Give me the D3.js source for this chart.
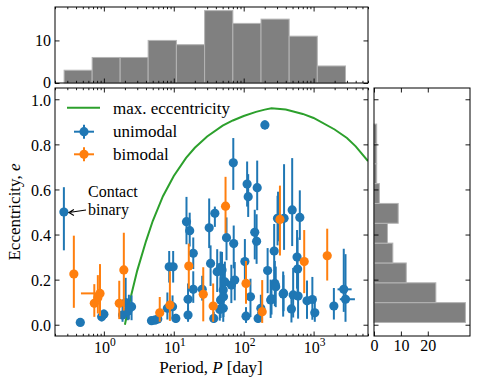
<!DOCTYPE html>
<html>
<head>
<meta charset="utf-8">
<script src="https://cdn.jsdelivr.net/npm/d3@7"></script>
<style>
  body { margin: 0; background: #fff; }
  svg text { font-family: "Liberation Serif", "DejaVu Serif", serif; font-size: 17px; fill: #000; }
</style>
</head>
<body>
<svg id="chart" width="480" height="380"></svg>
<script>
"use strict";

// unimodal (blue) orbits: period [day], eccentricity, lower / upper error
const uniPeriod = [0.268, 0.46, 0.93, 1.0, 1.85, 2.05, 2.2, 2.28, 2.49, 4.8, 5.35, 5.9, 8.1, 8.6, 9.6, 9.8, 10.7,
  15.2, 16.9, 16, 16, 19, 19, 25.5, 32.1, 33.6, 37.3, 38.7, 41.8, 45.5, 46.7, 46.7, 49, 51, 51.4, 51, 53.8, 56.8, 66.6,
  71, 72, 74.5, 104, 108, 112, 116, 125, 144, 153, 156, 161, 176,
  201, 220, 243, 250, 273, 279, 282, 287, 305, 310, 367, 372, 378,
  482, 494, 510, 580, 590, 600, 635, 805, 960, 1040, 1950, 2700, 2860];
const uniEcc = [0.50, 0.01, 0.035, 0.047, 0.043, 0.098, 0.06, 0.073, 0.08, 0.018, 0.02, 0.025, 0.073, 0.257, 0.08, 0.257, 0.028,
  0.457, 0.417, 0.113, 0.043, 0.317, 0.157, 0.157, 0.43, 0.272, 0.028, 0.494, 0.235, 0.068, 0.255, 0.11, 0.243, 0.154, 0.124, 0.073, 0.19, 0.386, 0.176,
  0.718, 0.36, 0.198, 0.28, 0.038, 0.624, 0.568, 0.124, 0.41, 0.37, 0.608, 0.028, 0.073,
  0.886, 0.24, 0.11, 0.115, 0.327, 0.183, 0.175, 0.168, 0.472, 0.47, 0.136, 0.14, 0.472,
  0.07, 0.509, 0.132, 0.30, 0.247, 0.127, 0.476, 0.106, 0.112, 0.053, 0.083, 0.157, 0.113];
const uniErrLo = [0.17, 0.01, 0.02, 0.02, 0.03, 0.06, 0.04, 0.05, 0.06, 0.01, 0.01, 0.015, 0.05, 0.07, 0.05, 0.07, 0.02,
  0.10, 0.07, 0.06, 0.03, 0.07, 0.06, 0.05, 0.09, 0.10, 0.02, 0.06, 0.09, 0.05, 0.10, 0.08, 0.10, 0.10, 0.09, 0.06, 0.08, 0.10, 0.08,
  0.12, 0.11, 0.09, 0.10, 0.03, 0.10, 0.09, 0.09, 0.12, 0.10, 0.10, 0.02, 0.05,
  0.02, 0.10, 0.08, 0.07, 0.14, 0.10, 0.08, 0.09, 0.12, 0.10, 0.10, 0.08, 0.14,
  0.06, 0.16, 0.10, 0.14, 0.12, 0.10, 0.10, 0.08, 0.09, 0.04, 0.06, 0.10, 0.10];
const uniErrHi = [0.11, 0.01, 0.025, 0.02, 0.06, 0.11, 0.05, 0.06, 0.05, 0.01, 0.01, 0.015, 0.07, 0.07, 0.05, 0.07, 0.02,
  0.11, 0.08, 0.07, 0.03, 0.07, 0.08, 0.06, 0.13, 0.08, 0.03, 0.03, 0.10, 0.06, 0.07, 0.10, 0.08, 0.10, 0.08, 0.09, 0.09, 0.09, 0.09,
  0.11, 0.08, 0.08, 0.10, 0.04, 0.10, 0.10, 0.08, 0.10, 0.12, 0.12, 0.03, 0.06,
  0.02, 0.10, 0.09, 0.08, 0.12, 0.10, 0.08, 0.09, 0.10, 0.12, 0.10, 0.08, 0.24,
  0.07, 0.23, 0.12, 0.12, 0.14, 0.11, 0.12, 0.09, 0.10, 0.05, 0.08, 0.18, 0.20];

// bimodal (orange) orbits
const biPeriod = [0.372, 0.73, 0.82, 0.88, 1.66, 1.93, 6.3, 8.8, 16.4, 26.4, 36.6, 55, 108, 184, 330, 734, 1566];
const biEcc = [0.225, 0.095, 0.12, 0.139, 0.095, 0.243, 0.053, 0.087, 0.26, 0.135, 0.083, 0.526, 0.183, 0.058, 0.467, 0.28, 0.306];
const biErrLo = [0.15, 0.06, 0.07, 0.10, 0.07, 0.18, 0.04, 0.07, 0.10, 0.12, 0.07, 0.12, 0.09, 0.05, 0.16, 0.14, 0.11];
const biErrHi = [0.17, 0.085, 0.10, 0.13, 0.10, 0.165, 0.07, 0.15, 0.10, 0.12, 0.10, 0.13, 0.10, 0.14, 0.15, 0.14, 0.12];

// the few points that carry a period error bar: [period, ecc, low period, high period]
const uniPeriodErr = [[2700, 0.157, 2200, 3500], [2860, 0.113, 2370, 3900]];
const biPeriodErr = [[0.88, 0.139, 0.47, 0.95]];

// maximum eccentricity curve
const maxEccPeriod = [2, 2.2, 2.5, 3, 4, 5, 7, 10, 15, 20, 30, 50, 70, 100, 150, 200, 250, 400, 700, 1000, 2000, 3000, 4000, 6000];
const maxEccValue = [0, 0.062, 0.14, 0.24, 0.37, 0.46, 0.57, 0.66, 0.74, 0.785, 0.835, 0.883, 0.906, 0.926, 0.944, 0.954, 0.96,
  0.955, 0.935, 0.917, 0.866, 0.828, 0.791, 0.726];

// marginal histograms
const periodBinEdges = [0.27, 0.68, 1.71, 4.3, 10.9, 27.6, 70, 177, 447, 1130, 2860];
const periodCounts = [3, 6, 6, 10, 9, 17, 14, 15, 11, 4];
const eccBinEdges = [0.01, 0.098, 0.186, 0.274, 0.362, 0.45, 0.538, 0.626, 0.714, 0.802, 0.89];
const eccCounts = [34, 23, 12, 7, 5, 9, 2, 1, 1, 1];

const yTicks = [0, 0.2, 0.4, 0.6, 0.8, 1.0];
const topTicks = [0, 10];
const sideTicks = [0, 10, 20];
const decades = [1, 10, 100, 1000];

const BLUE = "#1f77b4", ORANGE = "#ff7f0e", GREEN = "#2ca02c";

const svg = d3.select("#chart");
const main = { left: 55, right: 368, top: 88, bottom: 336 };
const topBox = { left: 55, right: 368, top: 7, bottom: 83 };
const sideBox = { left: 374, right: 470, top: 88, bottom: 336 };

const x = d3.scaleLog().domain([0.2, 6000]).range([main.left, main.right]);
const y = d3.scaleLinear().domain([-0.05, 1.05]).range([main.bottom, main.top]);
const yTop = d3.scaleLinear().domain([0, 17.85]).range([topBox.bottom, topBox.top]);
const xSide = d3.scaleLinear().domain([0, 35.7]).range([sideBox.left, sideBox.right]);

const minorLog = x.ticks().filter(t => !decades.includes(t));

function tickAxis(axis, box, pos, values, size, labels) {
    let a = axis.tickValues(values).tickSize(-size).tickPadding(4);
    if (!labels) a = a.tickFormat("");
    let g = svg.append("g").attr("transform", pos).call(a);
    g.select(".domain").remove();
    g.selectAll("line").attr("stroke", "#000").attr("stroke-width", 0.9);
    g.selectAll("text").attr("font-family", null).style("font-size", "16px");
    return g;
}

function frame(box) {
    svg.append("rect")
        .attr("x", box.left).attr("y", box.top)
        .attr("width", box.right - box.left).attr("height", box.bottom - box.top)
        .attr("fill", "none").attr("stroke", "#000").attr("stroke-width", 1);
}

function clip(id, box) {
    svg.append("clipPath").attr("id", id).append("rect")
        .attr("x", box.left).attr("y", box.top)
        .attr("width", box.right - box.left).attr("height", box.bottom - box.top);
}
clip("clipMain", main);

// TOP HISTOGRAM
svg.append("g").selectAll("rect")
    .data(periodCounts)
    .join("rect")
    .attr("x", (d, i) => x(periodBinEdges[i]))
    .attr("width", (d, i) => x(periodBinEdges[i + 1]) - x(periodBinEdges[i]))
    .attr("y", d => yTop(d))
    .attr("height", d => yTop(0) - yTop(d))
    .attr("fill", "#808080").attr("stroke", "#b4b4b4").attr("stroke-width", 1);

tickAxis(d3.axisBottom(x), topBox, `translate(0,${topBox.bottom})`, decades, 4.5, false);
tickAxis(d3.axisBottom(x), topBox, `translate(0,${topBox.bottom})`, minorLog, 2.2, false);
tickAxis(d3.axisTop(x), topBox, `translate(0,${topBox.top})`, decades, 4.5, false);
tickAxis(d3.axisTop(x), topBox, `translate(0,${topBox.top})`, minorLog, 2.2, false);
tickAxis(d3.axisLeft(yTop), topBox, `translate(${topBox.left},0)`, topTicks, 4.5, true)
    .selectAll("text").attr("dy", "0.3em");
tickAxis(d3.axisRight(yTop), topBox, `translate(${topBox.right},0)`, topTicks, 4.5, false);
frame(topBox);

// SIDE HISTOGRAM
svg.append("g").selectAll("rect")
    .data(eccCounts)
    .join("rect")
    .attr("x", xSide(0))
    .attr("width", d => xSide(d) - xSide(0))
    .attr("y", (d, i) => y(eccBinEdges[i + 1]))
    .attr("height", (d, i) => y(eccBinEdges[i]) - y(eccBinEdges[i + 1]))
    .attr("fill", "#808080").attr("stroke", "#b4b4b4").attr("stroke-width", 1);

tickAxis(d3.axisBottom(xSide), sideBox, `translate(0,${sideBox.bottom})`, sideTicks, 4.5, true);
tickAxis(d3.axisTop(xSide), sideBox, `translate(0,${sideBox.top})`, sideTicks, 4.5, false);
tickAxis(d3.axisLeft(y), sideBox, `translate(${sideBox.left},0)`, yTicks, 4.5, false);
tickAxis(d3.axisRight(y), sideBox, `translate(${sideBox.right},0)`, yTicks, 4.5, false);
frame(sideBox);

// MAIN PANEL
const plot = svg.append("g").attr("clip-path", "url(#clipMain)");

plot.append("path")
    .datum(maxEccPeriod.map((p, i) => [p, maxEccValue[i]]))
    .attr("fill", "none").attr("stroke", GREEN).attr("stroke-width", 2)
    .attr("d", d3.line().x(d => x(d[0])).y(d => y(d[1])));

function drawSeries(periods, ecc, lo, hi, pErr, color) {
    let g = plot.append("g");
    g.selectAll("line.ebar")
        .data(periods)
        .join("line")
        .attr("class", "ebar")
        .attr("x1", d => x(d)).attr("x2", d => x(d))
        .attr("y1", (d, i) => y(ecc[i] - lo[i]))
        .attr("y2", (d, i) => y(ecc[i] + hi[i]))
        .attr("stroke", color).attr("stroke-width", 2);
    g.selectAll("line.pbar")
        .data(pErr)
        .join("line")
        .attr("class", "pbar")
        .attr("x1", d => x(d[2])).attr("x2", d => x(d[3]))
        .attr("y1", d => y(d[1])).attr("y2", d => y(d[1]))
        .attr("stroke", color).attr("stroke-width", 2);
    g.selectAll("circle")
        .data(periods)
        .join("circle")
        .attr("cx", d => x(d))
        .attr("cy", (d, i) => y(ecc[i]))
        .attr("r", 4.6)
        .attr("fill", color);
}
drawSeries(uniPeriod, uniEcc, uniErrLo, uniErrHi, uniPeriodErr, BLUE);
drawSeries(biPeriod, biEcc, biErrLo, biErrHi, biPeriodErr, ORANGE);

tickAxis(d3.axisBottom(x), main, `translate(0,${main.bottom})`, decades, 4.5, false);
tickAxis(d3.axisBottom(x), main, `translate(0,${main.bottom})`, minorLog, 2.2, false);
tickAxis(d3.axisTop(x), main, `translate(0,${main.top})`, decades, 4.5, false);
tickAxis(d3.axisTop(x), main, `translate(0,${main.top})`, minorLog, 2.2, false);
tickAxis(d3.axisLeft(y), main, `translate(${main.left},0)`, yTicks, 4.5, true)
    .selectAll("text").text(d => d3.format(".1f")(d)).attr("dy", "0.36em");
tickAxis(d3.axisRight(y), main, `translate(${main.right},0)`, yTicks, 4.5, false);
frame(main);

// power-of-ten labels
decades.forEach(function(d, i) {
    let t = svg.append("text")
        .attr("x", x(d) + 1).attr("y", main.bottom + 17)
        .attr("text-anchor", "middle")
        .style("font-size", "16px");
    t.append("tspan").text("10");
    t.append("tspan").style("font-size", "11.5px").attr("dy", -7).text(i);
});

// axis labels
let xl = svg.append("text").attr("x", 211).attr("y", 373).attr("text-anchor", "middle");
xl.append("tspan").text("Period, ");
xl.append("tspan").attr("font-style", "italic").text("P");
xl.append("tspan").text(" [day]");

let yl = svg.append("text")
    .attr("transform", `translate(20,${(main.top + main.bottom) / 2}) rotate(-90)`)
    .attr("text-anchor", "middle");
yl.append("tspan").text("Eccentricity, ");
yl.append("tspan").attr("font-style", "italic").text("e");

// legend
const legend = svg.append("g").attr("transform", "translate(84,0)");
legend.append("line").attr("x1", -17).attr("x2", 16).attr("y1", 107.7).attr("y2", 107.7)
    .attr("stroke", GREEN).attr("stroke-width", 2);
legend.append("text").attr("x", 29).attr("y", 113.5).text("max. eccentricity");
[["unimodal", BLUE, 131.7], ["bimodal", ORANGE, 154.3]].forEach(function(item) {
    legend.append("line").attr("x1", -10).attr("x2", 10).attr("y1", item[2]).attr("y2", item[2])
        .attr("stroke", item[1]).attr("stroke-width", 2);
    legend.append("line").attr("x1", 0).attr("x2", 0).attr("y1", item[2] - 7).attr("y2", item[2] + 7)
        .attr("stroke", item[1]).attr("stroke-width", 2);
    legend.append("circle").attr("cx", 0).attr("cy", item[2]).attr("r", 4.6).attr("fill", item[1]);
    legend.append("text").attr("x", 29).attr("y", item[2] + 5.5).text(item[0]);
});

// contact binary note
svg.append("text").attr("x", 88).attr("y", 196.5).style("font-size", "16px").text("Contact");
svg.append("text").attr("x", 88).attr("y", 214.5).style("font-size", "16px").text("binary");
let ax = x(uniPeriod[0]) + 5, ay = y(uniEcc[0]) + 0.5;
svg.append("path")
    .attr("d", `M86,210 L${ax},${ay} M${ax + 5},${ay - 3} L${ax},${ay} L${ax + 5},${ay + 3}`)
    .attr("fill", "none").attr("stroke", "#000").attr("stroke-width", 1.1);
</script>
</body>
</html>
